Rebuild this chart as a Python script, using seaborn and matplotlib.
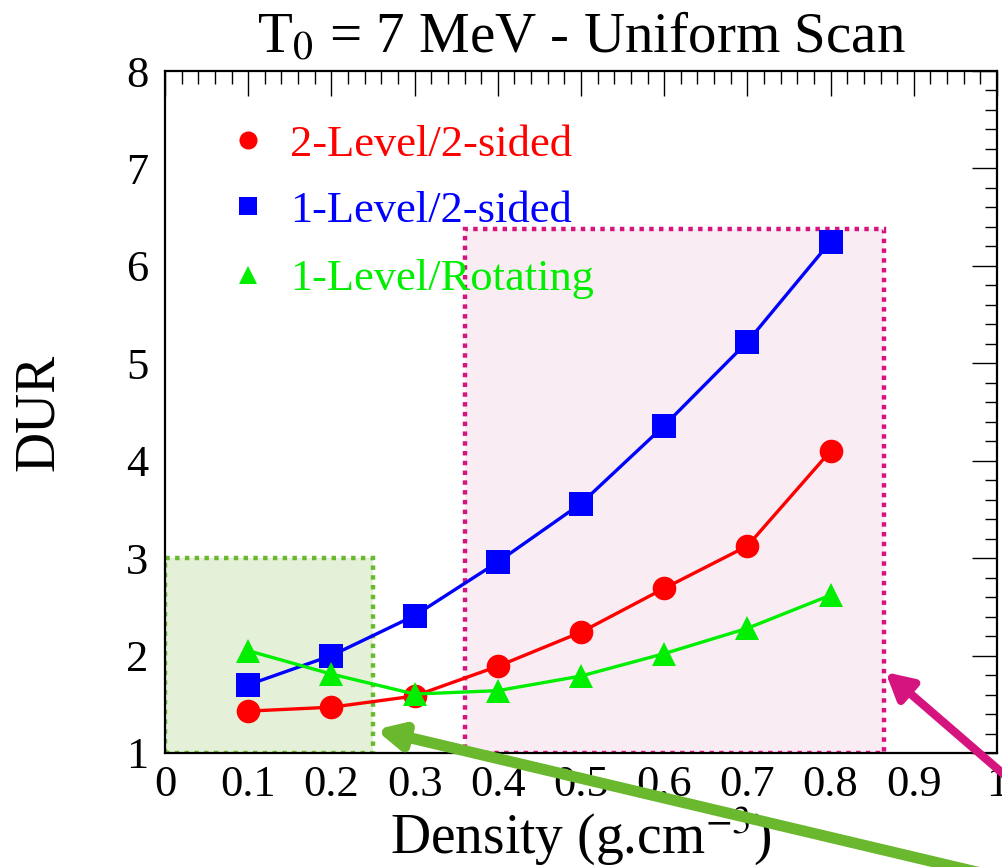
import numpy as np
import pandas as pd
import matplotlib
matplotlib.use("Agg")
import matplotlib.pyplot as plt
import seaborn as sns
from matplotlib.patches import Rectangle
from matplotlib.ticker import MultipleLocator

# Density points (g/cm^3) and DUR for each scan configuration
density = [0.1, 0.2, 0.3, 0.4, 0.5, 0.6, 0.7, 0.8]
dur_2level_2sided = [1.43, 1.47, 1.585, 1.89, 2.24, 2.69, 3.125, 4.10]
dur_1level_2sided = [1.70, 2.00, 2.41, 2.96, 3.56, 4.36, 5.22, 6.25]
dur_1level_rotating = [2.05, 1.81, 1.605, 1.64, 1.79, 2.02, 2.28, 2.62]

series_names = ["2-Level/2-sided", "1-Level/2-sided", "1-Level/Rotating"]
series_colors = ["#ff0000", "#0000ff", "#00ee00"]
series_markers = ["o", "s", "^"]

x_ticks = [0, 0.1, 0.2, 0.3, 0.4, 0.5, 0.6, 0.7, 0.8, 0.9, 1]
x_ticklabels = ["0", "0.1", "0.2", "0.3", "0.4", "0.5", "0.6", "0.7", "0.8", "0.9", "1"]
y_ticks = [1, 2, 3, 4, 5, 6, 7, 8]

df = pd.DataFrame({
    "Density": density * 3,
    "DUR": dur_2level_2sided + dur_1level_2sided + dur_1level_rotating,
    "Scan": np.repeat(series_names, len(density)),
})

sns.set_theme(style="white")
plt.rcParams["font.family"] = ["Liberation Serif", "DejaVu Serif"]
plt.rcParams["mathtext.fontset"] = "stix"
for key in ["text.color", "axes.labelcolor", "xtick.color", "ytick.color"]:
    plt.rcParams[key] = "black"

fig = plt.figure(figsize=(10.02, 8.67), dpi=100)
ax = fig.add_axes([165 / 1002, 1 - 753 / 867, (997 - 165) / 1002, (753 - 71) / 867])

# highlighted regions
ax.add_patch(Rectangle((0.0, 1.0), 0.25, 2.0, facecolor="#e4f0d8", edgecolor="#6ab82e",
                       linestyle=(0, (1, 1.2)), linewidth=3.2, zorder=0.5))
ax.add_patch(Rectangle((0.36, 1.0), 0.504, 5.38, facecolor="#f9edf3", edgecolor="#d6147f",
                       linestyle=(0, (1, 1.2)), linewidth=3.2, zorder=0.5))

sns.lineplot(data=df, x="Density", y="DUR", hue="Scan", style="Scan",
             hue_order=series_names, style_order=series_names,
             palette=dict(zip(series_names, series_colors)),
             markers=dict(zip(series_names, series_markers)),
             dashes=False, linewidth=2.4, markersize=17, markeredgewidth=0,
             ax=ax, legend=False, zorder=3)

ax.set_xlim(0, 1)
ax.set_ylim(1, 8)
ax.set_xticks(x_ticks)
ax.set_xticklabels(x_ticklabels)
ax.set_yticks(y_ticks)
ax.xaxis.set_minor_locator(MultipleLocator(0.02))
ax.yaxis.set_minor_locator(MultipleLocator(0.2))
ax.tick_params(which="both", direction="in", top=True, right=True, labelsize=32,
               color="black", width=1.0)
ax.tick_params(axis="x", which="major", length=18, pad=9)
ax.tick_params(axis="y", which="major", length=18, pad=12)
ax.tick_params(which="minor", length=9)
for sp in ax.spines.values():
    sp.set_color("black")
    sp.set_linewidth(1.6)

ax.set_xlabel(r"Density (g.cm$^{-3}$)", fontsize=40, labelpad=-1)
ax.set_ylabel("DUR", fontsize=40, labelpad=44)
ax.set_title(r"T$_0$ = 7 MeV - Uniform Scan", fontsize=41, pad=14)

# legend entries drawn as text rows in series colour
leg_y = [7.29, 6.61, 5.91]
for name, col, mk, yy in zip(series_names, series_colors, series_markers, leg_y):
    ax.plot([0.1], [yy], marker=mk, color=col, markersize=13, linestyle="none",
            markeredgewidth=0, zorder=4)
    ax.text(0.15, yy - 0.16, name, color=col, fontsize=32, va="baseline", ha="left", zorder=4)

# arrows pointing at the highlighted regions
ax.annotate("", xy=(0.253, 1.24), xycoords="data",
            xytext=(1040, -20), textcoords="figure pixels",
            arrowprops=dict(arrowstyle="-|>,head_length=1.2,head_width=0.6",
                            color="#6ab82e", lw=8, shrinkA=0, shrinkB=0),
            annotation_clip=False, zorder=5)
ax.annotate("", xy=(0.866, 1.83), xycoords="data",
            xytext=(1030, 70), textcoords="figure pixels",
            arrowprops=dict(arrowstyle="-|>,head_length=1.3,head_width=0.7",
                            color="#d6147f", lw=6, shrinkA=0, shrinkB=0),
            annotation_clip=False, zorder=5)

fig.savefig("out.png", dpi=100)
